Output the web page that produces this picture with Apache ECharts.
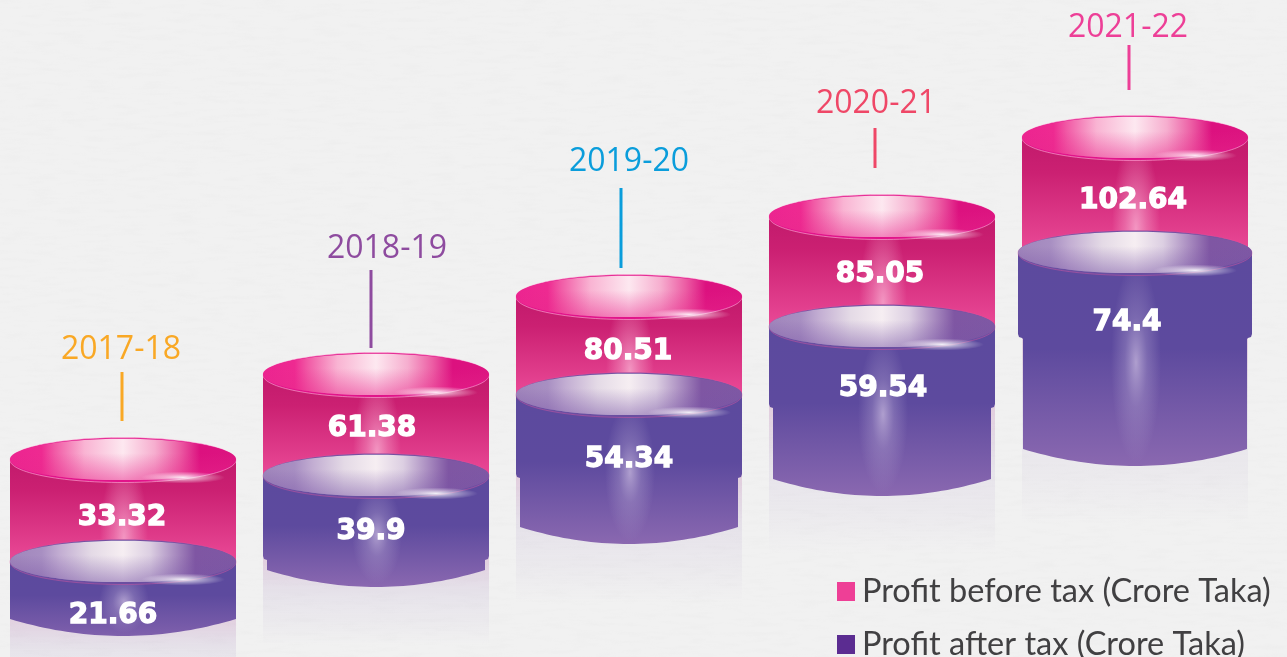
<!DOCTYPE html>
<html><head><meta charset="utf-8">
<script src="https://cdn.jsdelivr.net/npm/echarts@6/dist/echarts.min.js"></script>
<style>html,body{margin:0;padding:0;background-color:#f1f1f1}
#paper{position:absolute;left:0;top:0;width:1287px;height:657px}
#c{position:absolute;left:0;top:0;width:1287px;height:657px}</style>
</head><body>
<svg id="paper" xmlns="http://www.w3.org/2000/svg"><filter id="n"><feTurbulence type="fractalNoise" baseFrequency="0.035 0.22" numOctaves="3" seed="4"/><feColorMatrix values="0 0 0 0 0.62  0 0 0 0 0.62  0 0 0 0 0.62  0.9 0 0 0 -0.42"/></filter><rect width="1287" height="657" filter="url(#n)" opacity="0.22"/></svg>
<div id="c"></div>
<script>
// Values printed on the chart
const categories = ['2017-18','2018-19','2019-20','2020-21','2021-22'];
const profitBeforeTax = [33.32,61.38,80.51,85.05,102.64];
const profitAfterTax  = [21.66,39.9,54.34,59.54,74.4];
const valueLabels = {pbt:['33.32','61.38','80.51','85.05','102.64'], pat:['21.66','39.9','54.34','59.54','74.4']};
// The infographic is not drawn to a common scale: these are the levels read
// from the picture, on the hidden y axis
const pbtLevel    = [197,282,360,440,519];
const patLevel    = [95,181,262,330,404];
const collarLevel = [null,97,179,249,319];
const baseLevel   = [38,87,130,178,208];
const stemFrom    = [236,309,389,489,567];
const stemTo      = [285,387,469,529,612];
const yearLevel   = [309,410,497,555,631];

// Styling
const yearColors = ['#f9a825','#8e4b9f','#0a9ddb','#ef4767','#ed3f97'];
const yearDx = [-2,11,0,-6,-7], stemDx = [-1,-5,-8,-7,-6];
const pbtLabelDy = [7,3,6,3,5], pbtLabelDx = [-1,-4,-1,-2,-2];
const patLabelDy = [54,56,65,62,70], patLabelDx = [-10,-5,0,1,-8];
const wideW = [113,113,113,113,117], narrowW = [113,109,109,109,112];
const RY = 22.5;
const LG = (x0,y0,x1,y1,stops)=>new echarts.graphic.LinearGradient(x0,y0,x1,y1,stops.map(s=>({offset:s[0],color:s[1]})));
const RG = (stops)=>new echarts.graphic.RadialGradient(0.5,0.5,0.5,stops.map(s=>({offset:s[0],color:s[1]})));
const glow=(x,y,r,sx,sy,c0,c1)=>({type:'circle',x,y,scaleX:sx,scaleY:sy,shape:{cx:0,cy:0,r},silent:true,style:{fill:RG([[0,c0],[0.45,c1],[1,c1.replace(/[\d.]+\)$/,'0)')]])}});
const PINK_TOP=[[0,'#ec2490'],[0.14,'#ee2a91'],[0.2,'#f15ba6'],[0.33,'#f9b4d3'],[0.5,'#fde8f0'],[0.64,'#f6aecf'],[0.75,'#ec5da4'],[0.84,'#dc117f'],[1,'#dc1480']];
const PURPLE_TOP=[[0,'#a085bb'],[0.14,'#a88fc2'],[0.22,'#c2add2'],[0.36,'#e4dae6'],[0.5,'#f6eef2'],[0.62,'#dccfe2'],[0.73,'#a98cc0'],[0.82,'#7f56a3'],[1,'#7e58a4']];
function disc(cx,cy,rx,rim,edge,stops,shade){
  return [
    {type:'ellipse',shape:{cx,cy,rx,ry:RY},silent:true,style:{fill:rim,stroke:edge,lineWidth:0.7}},
    {type:'ellipse',shape:{cx,cy:cy-0.6,rx,ry:RY-1.8},silent:true,style:{fill:LG(0,0,1,0,stops)}},
    {type:'ellipse',shape:{cx,cy:cy-0.6,rx,ry:RY-1.8},silent:true,style:{fill:LG(0,0,0,1,[[0,shade+'0)'],[0.35,shade+'0)'],[1,shade+'0.5)']])}},
    glow(cx+60,cy+RY-5,10,4.2,0.6,'rgba(255,255,255,0.9)','rgba(255,255,255,0.45)')
  ];
}
function purpleBody(cx,top,collar,base,w,n){
  const pts=[[cx-w,top],[cx+w,top]];
  const r=4;
  if(collar!==null && n<w){
    pts.push([cx+w,collar-r],[cx+w-1,collar-1],[cx+w-r,collar],[cx+n,collar+1]);
  }
  pts.push([cx+n,base]);
  for(let i=1;i<40;i++){const t=1-2*i/40;pts.push([cx+n*t,base+17*(1-t*t)]);}
  pts.push([cx-n,base]);
  if(collar!==null && n<w){
    pts.push([cx-n,collar+1],[cx-w+r,collar],[cx-w+1,collar-1],[cx-w,collar-r]);
  }
  return pts;
}
const txt=(x,y,text)=>({type:'text',x,y,silent:true,style:{text,fill:'#fff',fontFamily:'DejaVu Sans',fontWeight:'bold',fontSize:28,align:'center',verticalAlign:'middle',stroke:'#fff',lineWidth:1.3}});

function renderPbt(p,api){
  const i=p.dataIndex,c=api.coord([i,api.value(1)]),cx=c[0],cy=c[1];
  const pat=api.coord([i,patLevel[i]])[1];
  const rx=113;
  const base=api.coord([i,baseLevel[i]])[1];
  const coll=collarLevel[i]===null?base:api.coord([i,collarLevel[i]])[1];
  const gap=pat-RY-cy;
  return {type:'group',children:[
    {type:'rect',shape:{x:cx-rx,y:coll-6,width:2*rx,height:base-coll+82},silent:true,
      style:{fill:LG(0,0,0,1,[[0,'rgba(190,110,170,0.28)'],[0.45,'rgba(150,120,185,0.11)'],[1,'rgba(150,120,185,0)']])}},
    {type:'rect',shape:{x:cx-rx,y:cy,width:2*rx,height:pat-cy},silent:true,
      style:{fill:LG(0,0,0,1,[[0,'#c21a6c'],[0.3,'#cb2072'],[1,'#ea4a97']])}},
    glow(cx+1,pat-RY-2,gap,24/gap,1,'rgba(255,205,228,0.62)','rgba(255,195,222,0.32)'),
    ...disc(cx,cy,rx,'#e1148a','rgba(255,190,220,0.8)',PINK_TOP,'rgba(232,40,140,'),
    txt(cx+pbtLabelDx[i],(cy+RY+pat-RY)/2+pbtLabelDy[i],valueLabels.pbt[i])
  ]};
}
function renderPat(p,api){
  const i=p.dataIndex,c=api.coord([i,api.value(1)]),cx=c[0],cy=c[1];
  const base=api.coord([i,baseLevel[i]])[1];
  const coll=collarLevel[i]===null?null:api.coord([i,collarLevel[i]])[1];
  const w=wideW[i],n=narrowW[i];
  const mid=(cy+RY+base)/2, hr=(base-cy-RY)/2+14;
  const h=base+17-cy;
  return {type:'group',children:[
    {type:'polygon',shape:{points:purpleBody(cx,cy,coll,base,w,n)},silent:true,
      style:{fill:LG(0,0,0,1,[[0,'#5c4a9e'],[0.45,'#5d4a9e'],[1,h>95?'#8a68b0':'#7f60ac']])}},
    glow(cx+1,mid,hr,25/hr,1,'rgba(205,190,225,0.72)','rgba(190,175,215,0.3)'),
    ...disc(cx,cy,w,'#6a4ea1','rgba(225,90,160,0.6)',PURPLE_TOP,'rgba(120,85,165,'),
    txt(cx+patLabelDx[i],cy+patLabelDy[i],valueLabels.pat[i])
  ]};
}
function renderYear(p,api){
  const i=p.dataIndex,c=api.coord([i,api.value(1)]);
  const col=yearColors[i];
  return {type:'group',children:[
    {type:'rect',shape:{x:c[0]+stemDx[i]-1.5,y:api.coord([i,stemTo[i]])[1],width:3,height:api.coord([i,stemFrom[i]])[1]-api.coord([i,stemTo[i]])[1]},silent:true,style:{fill:col}},
    {type:'text',x:c[0]+yearDx[i],y:c[1]+2,silent:true,style:{text:categories[i],fill:col,fontFamily:'Open Sans',fontSize:32,align:'center',verticalAlign:'middle'}}
  ]};
}
const chart=echarts.init(document.getElementById('c'),null,{renderer:'canvas'});
chart.setOption({
  animation:false,
  backgroundColor:'transparent',
  grid:{left:123,width:1012,top:0,height:657},
  xAxis:{type:'category',boundaryGap:false,data:categories,show:false},
  yAxis:{type:'value',min:0,max:657,show:false},
  legend:{data:['Profit before tax (Crore Taka)','Profit after tax (Crore Taka)'],orient:'vertical',left:837,top:575,height:200,width:445,itemWidth:18,itemHeight:19,itemGap:20,icon:'rect',
    textStyle:{fontFamily:'Lato',fontSize:32.5,color:'#414042',lineHeight:30,padding:[0,0,0,2]},padding:0,selectedMode:false},
  series:[
    {name:'Profit before tax (Crore Taka)',type:'custom',clip:false,itemStyle:{color:'#ee3f96'},encode:{x:0,y:1},data:pbtLevel.map((v,i)=>[i,v,profitBeforeTax[i]]),renderItem:renderPbt},
    {name:'Profit after tax (Crore Taka)',type:'custom',clip:false,itemStyle:{color:'#5b2c91'},encode:{x:0,y:1},data:patLevel.map((v,i)=>[i,v,profitAfterTax[i]]),renderItem:renderPat},
    {name:'years',type:'custom',clip:false,encode:{x:0,y:1},data:yearLevel.map((v,i)=>[i,v]),renderItem:renderYear}
  ]
});
</script></body></html>
